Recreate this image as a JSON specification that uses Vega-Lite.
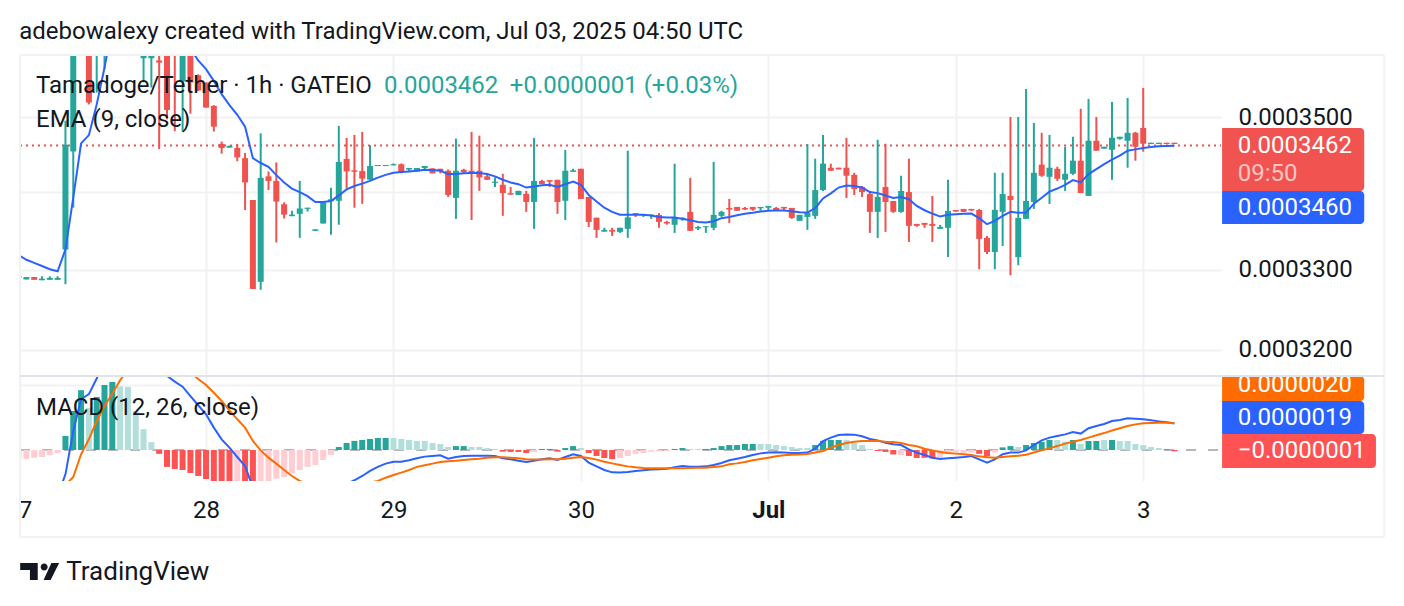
{
  "$schema": "https://vega.github.io/schema/vega-lite/v6.json",
  "description": "Tamadoge/Tether 1h candles with EMA 9 and MACD panes",
  "background": "#ffffff",
  "padding": {"left": 18, "top": 20, "right": 0, "bottom": 0},
  "title": {
    "text": "adebowalexy created with TradingView.com, Jul 03, 2025 04:50 UTC",
    "anchor": "start",
    "font": "Roboto",
    "fontSize": 24,
    "fontWeight": "normal",
    "color": "#131722",
    "offset": 10,
    "dx": 1
  },
  "config": {
    "view": {"stroke": null},
    "font": "Roboto",
    "axis": {"domain": false, "ticks": false, "gridColor": "#f2f2f2", "gridWidth": 2, "labelFont": "Roboto", "labelFontSize": 24, "labelColor": "#131722"}
  },
  "spacing": 0,
  "bounds": "flush",
  "datasets": {
    "bars": [
      {"hour":-24,"open":3290,"high":3292,"low":3290,"close":3292,"ema":3319,"hist":-6,"histState":"ease"},
      {"hour":-23,"open":3288,"high":3291,"low":3288,"close":3291,"ema":3313,"hist":-6.9,"histState":"ease"},
      {"hour":-22,"open":3291,"high":3291,"low":3287.5,"close":3287.5,"ema":3309,"hist":-6,"histState":"ease"},
      {"hour":-21,"open":3287,"high":3292,"low":3287,"close":3289,"ema":3305,"hist":-5.4,"histState":"ease"},
      {"hour":-20,"open":3287.5,"high":3292,"low":3287.5,"close":3290,"ema":3301,"hist":-4,"histState":"ease"},
      {"hour":-19,"open":3287.5,"high":3292,"low":3287.5,"close":3290,"ema":3298.3,"macd":-35,"signal":-40,"hist":-2.3,"histState":"ease"},
      {"hour":-18,"open":3326,"high":3495,"low":3282,"close":3463,"ema":3326.3,"macd":-18.7,"signal":-27,"hist":10.8,"histState":"grow"},
      {"hour":-17,"open":3454,"high":3680,"low":3380,"close":3640,"ema":3393,"macd":14.6,"signal":-20.8,"hist":30,"histState":"grow"},
      {"hour":-16,"ema":3464.6,"macd":39,"signal":-3.3,"hist":46,"histState":"grow"},
      {"hour":-15,"open":3640,"high":3660,"low":3517,"close":3519.5,"ema":3475.7,"macd":43,"signal":8.2,"hist":32.5,"histState":"fade"},
      {"hour":-14,"open":3600,"high":3660,"low":3533,"close":3640,"ema":3517,"macd":55,"signal":22.3,"hist":40.8,"histState":"grow"},
      {"hour":-13,"open":3610,"high":3660,"low":3565,"close":3650,"ema":3567,"macd":70,"signal":33.8,"hist":50,"histState":"grow"},
      {"hour":-12,"ema":3625,"signal":43.3,"hist":52.3,"histState":"grow"},
      {"hour":-11,"ema":3660,"signal":53.6,"hist":49,"histState":"fade"},
      {"hour":-10,"signal":62,"hist":48.5,"histState":"fade"},
      {"hour":-9,"ema":3700,"macd":85,"hist":30,"histState":"fade"},
      {"hour":-8,"open":3580,"high":3650,"low":3547,"close":3640,"hist":16,"histState":"fade"},
      {"hour":-7,"open":3580,"high":3640,"low":3540,"close":3620,"ema":3705,"hist":6,"histState":"fade"},
      {"hour":-6,"open":3577,"high":3600,"low":3457,"close":3574,"macd":65,"signal":72,"hist":-3,"histState":"fall"},
      {"hour":-5,"open":3600,"high":3620,"low":3497,"close":3509.5,"ema":3680,"macd":57,"hist":-13,"histState":"fall"},
      {"hour":-4,"open":3600,"high":3610,"low":3481,"close":3590,"macd":52.6,"hist":-14.6,"histState":"fall"},
      {"hour":-3,"open":3548,"high":3630,"low":3480.5,"close":3620,"ema":3625,"macd":48.7,"signal":63,"hist":-15.4,"histState":"fall"},
      {"hour":-2,"open":3620,"high":3630,"low":3504.5,"close":3546.7,"ema":3593,"macd":41.5,"signal":59.5,"hist":-17.7,"histState":"fall"},
      {"hour":-1,"open":3556.6,"high":3558,"low":3535,"close":3536,"ema":3577,"macd":34.4,"signal":54.6,"hist":-20,"histState":"fall"},
      {"hour":0,"open":3546.7,"high":3546.7,"low":3512.7,"close":3512.7,"ema":3565,"macd":27.4,"signal":50,"hist":-22.3,"histState":"fall"},
      {"hour":1,"open":3515,"high":3516,"low":3480.5,"close":3487,"ema":3549,"macd":17.2,"signal":44,"hist":-25,"histState":"fall"},
      {"hour":2,"open":3464,"high":3467,"low":3451,"close":3458.5,"ema":3531,"macd":8.2,"signal":37.7,"hist":-27,"histState":"fall"},
      {"hour":3,"open":3459,"high":3461.5,"low":3459,"close":3461.5,"ema":3516,"macd":1.8,"signal":30.5,"hist":-28,"histState":"fall"},
      {"hour":4,"open":3458.5,"high":3464,"low":3441,"close":3446,"ema":3503,"macd":-5.4,"signal":23.6,"hist":-27,"histState":"ease"},
      {"hour":5,"open":3445,"high":3452,"low":3377,"close":3413,"ema":3487,"macd":-12.3,"signal":17.2,"hist":-29,"histState":"fall"},
      {"hour":6,"open":3390,"high":3390,"low":3276,"close":3276,"ema":3445,"macd":-29,"signal":7,"hist":-31,"histState":"fall"},
      {"hour":7,"open":3285,"high":3478,"low":3275,"close":3419,"ema":3438.6,"macd":-35,"signal":-0.3,"hist":-29,"histState":"ease"},
      {"hour":8,"open":3421,"high":3427.5,"low":3403,"close":3415,"ema":3433.7,"signal":-5.9,"hist":-26,"histState":"ease"},
      {"hour":9,"open":3415,"high":3439.5,"low":3335,"close":3388,"ema":3422.6,"signal":-10.5,"hist":-22,"histState":"ease"},
      {"hour":10,"open":3384.5,"high":3387,"low":3366,"close":3371,"ema":3412.8,"macd":-38,"signal":-15.4,"hist":-20.8,"histState":"ease"},
      {"hour":11,"open":3369,"high":3376,"low":3369,"close":3371,"ema":3404.9,"signal":-20,"hist":-18,"histState":"ease"},
      {"hour":12,"open":3372,"high":3415,"low":3341,"close":3379,"ema":3400.4,"signal":-23.8,"hist":-15.4,"histState":"ease"},
      {"hour":13,"open":3378.5,"high":3380,"low":3375,"close":3380,"ema":3395,"signal":-26,"hist":-13,"histState":"ease"},
      {"hour":14,"open":3350,"high":3352,"low":3350,"close":3352,"ema":3387.5,"macd":-34,"hist":-11.5,"histState":"ease"},
      {"hour":15,"open":3359.5,"high":3387,"low":3359.5,"close":3387,"ema":3387.5,"hist":-7.7,"histState":"ease"},
      {"hour":16,"open":3388.5,"high":3406,"low":3345,"close":3391,"ema":3388.8,"hist":-3.8,"histState":"ease"},
      {"hour":17,"open":3389,"high":3488,"low":3358,"close":3440,"ema":3396,"signal":-30,"hist":2.3,"histState":"grow"},
      {"hour":18,"open":3444,"high":3472,"low":3405,"close":3427.5,"ema":3403.9,"macd":-26,"hist":5.4,"histState":"grow"},
      {"hour":19,"open":3429,"high":3476,"low":3380,"close":3427,"ema":3408.3,"macd":-23.3,"hist":7,"histState":"grow"},
      {"hour":20,"open":3428,"high":3480,"low":3385,"close":3418,"ema":3411.5,"macd":-20,"hist":7.7,"histState":"grow"},
      {"hour":21,"open":3416.6,"high":3462.4,"low":3416.6,"close":3434.6,"ema":3415,"macd":-16,"signal":-25,"hist":8.5,"histState":"grow"},
      {"hour":22,"open":3436,"high":3436,"low":3434.6,"close":3434.6,"ema":3419.4,"macd":-13,"signal":-23.8,"hist":9.2,"histState":"grow"},
      {"hour":23,"open":3434.6,"high":3436,"low":3434.6,"close":3436,"ema":3423,"macd":-10.5,"signal":-21.3,"hist":9.2,"histState":"grow"},
      {"hour":24,"open":3435.5,"high":3438,"low":3435.5,"close":3437,"ema":3425.7,"macd":-9,"signal":-19.2,"hist":9.2,"histState":"fade"},
      {"hour":25,"open":3437,"high":3438,"low":3425,"close":3426,"ema":3426.6,"macd":-9,"signal":-17.4,"hist":8.5,"histState":"fade"},
      {"hour":26,"open":3430,"high":3432,"low":3427.5,"close":3432,"ema":3427.5,"macd":-7.9,"signal":-15.4,"hist":7.7,"histState":"fade"},
      {"hour":27,"open":3427.5,"high":3432,"low":3427.5,"close":3432,"ema":3428.4,"macd":-6.4,"signal":-13,"hist":7,"histState":"fade"},
      {"hour":28,"open":3432,"high":3434.6,"low":3429,"close":3434.6,"ema":3429.7,"macd":-5.1,"signal":-11.8,"hist":7,"histState":"fade"},
      {"hour":29,"open":3431.5,"high":3431.5,"low":3425,"close":3425,"ema":3429.3,"macd":-4.6,"signal":-10.5,"hist":5.4,"histState":"fade"},
      {"hour":30,"open":3431,"high":3431,"low":3425,"close":3428,"ema":3428.4,"macd":-4.1,"signal":-9.2,"hist":4.6,"histState":"fade"},
      {"hour":31,"open":3428.4,"high":3430,"low":3394,"close":3396.6,"ema":3424,"macd":-6.7,"signal":-8.7,"hist":2.3,"histState":"fade"},
      {"hour":32,"open":3392.7,"high":3471,"low":3365.5,"close":3428.4,"ema":3424,"macd":-5.4,"signal":-8.2,"hist":3,"histState":"grow"},
      {"hour":33,"open":3429.7,"high":3431,"low":3425,"close":3426.6,"ema":3425,"macd":-4.6,"signal":-7.7,"hist":3,"histState":"grow"},
      {"hour":34,"open":3428.4,"high":3480,"low":3364,"close":3425,"ema":3425.3,"macd":-4.4,"signal":-7.2,"hist":2.3,"histState":"fade"},
      {"hour":35,"open":3428.4,"high":3475,"low":3402,"close":3419.6,"ema":3425.3,"macd":-4.4,"signal":-6.7,"hist":2.3,"histState":"fade"},
      {"hour":36,"open":3421,"high":3424,"low":3416.5,"close":3416.5,"ema":3424,"macd":-4.4,"signal":-5.9,"hist":1.5,"histState":"fade"},
      {"hour":37,"open":3412.5,"high":3419.6,"low":3407,"close":3414,"ema":3421,"macd":-4.6,"signal":-5.6,"hist":0.8,"histState":"fade"},
      {"hour":38,"open":3410,"high":3424.4,"low":3369.4,"close":3399,"ema":3416.5,"macd":-6.4,"signal":-5.6,"hist":-1.3,"histState":"fall"},
      {"hour":39,"open":3399,"high":3407,"low":3397,"close":3397,"ema":3413,"macd":-7.2,"signal":-5.9,"hist":-1.5,"histState":"fall"},
      {"hour":40,"open":3396.5,"high":3402,"low":3396.5,"close":3402,"ema":3410.7,"macd":-8.2,"signal":-6.4,"hist":-1.5,"histState":"fall"},
      {"hour":41,"open":3398,"high":3402,"low":3374.6,"close":3387.5,"ema":3406.3,"macd":-9.2,"signal":-7.2,"hist":-2.3,"histState":"fall"},
      {"hour":42,"open":3387.5,"high":3472,"low":3352.6,"close":3415,"ema":3407.6,"macd":-8.2,"signal":-7.4,"hist":-1.5,"histState":"ease"},
      {"hour":43,"open":3415,"high":3416.5,"low":3411,"close":3411,"ema":3409.4,"macd":-7.2,"signal":-7.4,"hist":0.8,"histState":"grow"},
      {"hour":44,"open":3416,"high":3416,"low":3407,"close":3414,"ema":3410,"macd":-6.4,"signal":-7.2,"hist":0.8,"histState":"grow"},
      {"hour":45,"open":3416.5,"high":3416.5,"low":3372,"close":3387.5,"ema":3407,"macd":-7.7,"signal":-7.2,"hist":-1.3,"histState":"fall"},
      {"hour":46,"open":3389,"high":3456,"low":3364,"close":3428.4,"ema":3410.7,"macd":-5.4,"signal":-6.7,"hist":1.5,"histState":"grow"},
      {"hour":47,"open":3427,"high":3431,"low":3427,"close":3429,"ema":3414.3,"macd":-3.3,"signal":-5.9,"hist":3,"histState":"grow"},
      {"hour":48,"open":3431,"high":3431,"low":3391.4,"close":3391.4,"ema":3410,"macd":-4.6,"signal":-5.4,"hist":1.5,"histState":"fade"},
      {"hour":49,"open":3394,"high":3394,"low":3355,"close":3361.6,"ema":3396.6,"macd":-9.7,"signal":-6.2,"hist":-2.3,"histState":"fall"},
      {"hour":50,"open":3367,"high":3367,"low":3341,"close":3351.3,"ema":3388,"macd":-12.6,"signal":-7.4,"hist":-4.6,"histState":"fall"},
      {"hour":51,"open":3349,"high":3354,"low":3349,"close":3351.3,"ema":3380,"macd":-15.4,"signal":-9,"hist":-6.2,"histState":"fall"},
      {"hour":52,"open":3351.3,"high":3354,"low":3343.5,"close":3349,"ema":3374.6,"macd":-17.2,"signal":-10.3,"hist":-7,"histState":"fall"},
      {"hour":53,"open":3348.7,"high":3354,"low":3347.4,"close":3354,"ema":3371,"macd":-17.4,"signal":-11.5,"hist":-6.2,"histState":"ease"},
      {"hour":54,"open":3352.6,"high":3455,"low":3341,"close":3367.5,"ema":3370.7,"macd":-16.9,"signal":-12.6,"hist":-4.6,"histState":"ease"},
      {"hour":55,"open":3373,"high":3373,"low":3368,"close":3370.7,"ema":3370.7,"macd":-16.2,"signal":-13.3,"hist":-3,"histState":"ease"},
      {"hour":56,"open":3370,"high":3371.6,"low":3368,"close":3371.6,"ema":3370.7,"macd":-15.6,"signal":-13.8,"hist":-2.3,"histState":"ease"},
      {"hour":57,"open":3369.4,"high":3371,"low":3365.5,"close":3371,"ema":3369.8,"macd":-15.1,"signal":-14.1,"hist":-1.3,"histState":"ease"},
      {"hour":58,"open":3370.7,"high":3373,"low":3354,"close":3361.6,"ema":3368,"macd":-14.9,"signal":-14.1,"hist":-1,"histState":"ease"},
      {"hour":59,"open":3361.6,"high":3363,"low":3358,"close":3359.5,"ema":3367.2,"macd":-14.4,"signal":-14.1,"hist":-0.8,"histState":"ease"},
      {"hour":60,"open":3357.8,"high":3437.7,"low":3347.4,"close":3367.5,"ema":3367.2,"macd":-13.3,"signal":-14.1,"hist":0.8,"histState":"grow"},
      {"hour":61,"open":3365,"high":3367.5,"low":3363,"close":3367,"ema":3365.5,"macd":-12.3,"signal":-14.1,"hist":1.5,"histState":"grow"},
      {"hour":62,"open":3374.6,"high":3419,"low":3350,"close":3350,"ema":3363.8,"macd":-12.8,"signal":-13.8,"hist":0.8,"histState":"fade"},
      {"hour":63,"open":3353,"high":3356.5,"low":3351,"close":3355,"ema":3361.6,"macd":-12.8,"signal":-13.6,"hist":0.8,"histState":"fade"},
      {"hour":64,"open":3354.7,"high":3356,"low":3347.4,"close":3356,"ema":3360.7,"macd":-12.6,"signal":-13.6,"hist":0.8,"histState":"grow"},
      {"hour":65,"open":3354,"high":3440,"low":3351,"close":3370.7,"ema":3362.4,"macd":-11.5,"signal":-13,"hist":1.5,"histState":"grow"},
      {"hour":66,"open":3369.4,"high":3376,"low":3368,"close":3374.6,"ema":3366.4,"macd":-10,"signal":-12.6,"hist":3,"histState":"grow"},
      {"hour":67,"open":3379.7,"high":3391.4,"low":3360,"close":3377.6,"ema":3368,"macd":-7.9,"signal":-11,"hist":3.8,"histState":"grow"},
      {"hour":68,"open":3381,"high":3381,"low":3376,"close":3376,"ema":3370.3,"macd":-6.7,"signal":-10.3,"hist":3.8,"histState":"grow"},
      {"hour":69,"open":3379.7,"high":3381,"low":3377,"close":3377.6,"ema":3372,"macd":-5.4,"signal":-9.2,"hist":4.6,"histState":"grow"},
      {"hour":70,"open":3381,"high":3381,"low":3376,"close":3377.6,"ema":3373.3,"macd":-3.8,"signal":-7.9,"hist":4.6,"histState":"grow"},
      {"hour":71,"open":3379.3,"high":3381,"low":3376,"close":3381,"ema":3375,"macd":-2.6,"signal":-6.9,"hist":4.6,"histState":"fade"},
      {"hour":72,"open":3380,"high":3382.3,"low":3376,"close":3382.3,"ema":3376,"macd":-2,"signal":-5.9,"hist":4.6,"histState":"fade"},
      {"hour":73,"open":3379.7,"high":3381,"low":3377,"close":3377,"ema":3376.4,"macd":-1.8,"signal":-4.9,"hist":3.8,"histState":"fade"},
      {"hour":74,"open":3381,"high":3381,"low":3376,"close":3379,"ema":3376.4,"macd":-2,"signal":-4.1,"hist":3,"histState":"fade"},
      {"hour":75,"open":3379.7,"high":3379.7,"low":3365.5,"close":3366.8,"ema":3375.4,"macd":-2.3,"signal":-3.6,"hist":2.3,"histState":"fade"},
      {"hour":76,"open":3363,"high":3370.7,"low":3363,"close":3370.7,"ema":3374,"macd":-2.4,"signal":-3.5,"hist":1.5,"histState":"fade"},
      {"hour":77,"open":3368,"high":3463.8,"low":3351.3,"close":3373.5,"ema":3373.7,"macd":-2,"signal":-3,"hist":1.5,"histState":"fade"},
      {"hour":78,"open":3369.4,"high":3444.3,"low":3365.5,"close":3403,"ema":3379.3,"macd":1,"signal":-2,"hist":3.8,"histState":"grow"},
      {"hour":79,"open":3403,"high":3476,"low":3401.8,"close":3437.8,"ema":3392,"macd":6.9,"signal":-0.8,"hist":7,"histState":"grow"},
      {"hour":80,"open":3432.4,"high":3437.7,"low":3428.4,"close":3428.4,"ema":3398.7,"macd":9.5,"signal":1.8,"hist":7.7,"histState":"grow"},
      {"hour":81,"open":3432.4,"high":3432.4,"low":3430.2,"close":3430.2,"ema":3406.3,"macd":11.5,"signal":3.8,"hist":7.7,"histState":"grow"},
      {"hour":82,"open":3432.4,"high":3472,"low":3392.7,"close":3421.8,"ema":3409,"macd":12,"signal":5.4,"hist":7.7,"histState":"fade"},
      {"hour":83,"open":3423,"high":3425.7,"low":3396.6,"close":3404.4,"ema":3408.4,"macd":11.8,"signal":6.4,"hist":5.4,"histState":"fade"},
      {"hour":84,"open":3407,"high":3408.4,"low":3394,"close":3400.4,"ema":3406.3,"macd":10.5,"signal":6.9,"hist":3.8,"histState":"fade"},
      {"hour":85,"open":3397.8,"high":3401.8,"low":3347.4,"close":3374.6,"ema":3400.4,"macd":8.5,"signal":6.9,"hist":0.8,"histState":"fade"},
      {"hour":86,"open":3374.6,"high":3469.5,"low":3341,"close":3394,"ema":3399,"macd":7.4,"signal":6.9,"hist":-0.8,"histState":"fall"},
      {"hour":87,"open":3407,"high":3464.2,"low":3348.7,"close":3387.5,"ema":3396,"macd":5.6,"signal":6.4,"hist":-1.5,"histState":"fall"},
      {"hour":88,"open":3388.8,"high":3388.8,"low":3373.3,"close":3374.6,"ema":3392.7,"macd":4.4,"signal":6.2,"hist":-3.5,"histState":"fall"},
      {"hour":89,"open":3374.6,"high":3421.8,"low":3373.3,"close":3401.8,"ema":3394,"macd":3.8,"signal":5.4,"hist":-4,"histState":"ease"},
      {"hour":90,"open":3400.4,"high":3444.3,"low":3335.8,"close":3356.5,"ema":3391,"macd":0.5,"signal":3.8,"hist":-4.6,"histState":"fall"},
      {"hour":91,"open":3359,"high":3359,"low":3355.2,"close":3356.5,"ema":3382.3,"macd":-2,"signal":2.8,"hist":-6.2,"histState":"fall"},
      {"hour":92,"open":3360.3,"high":3360.3,"low":3354,"close":3357.8,"ema":3376.7,"macd":-3.8,"signal":1,"hist":-6,"histState":"fall"},
      {"hour":93,"open":3359,"high":3395.3,"low":3335.8,"close":3356.5,"ema":3372.4,"macd":-5.9,"signal":-0.3,"hist":-6.5,"histState":"fall"},
      {"hour":94,"open":3352.6,"high":3357.8,"low":3352.6,"close":3355.2,"ema":3368.5,"macd":-6.9,"signal":-1.5,"hist":-6,"histState":"ease"},
      {"hour":95,"open":3353.9,"high":3416.5,"low":3316.4,"close":3375.9,"ema":3370.7,"macd":-6.4,"signal":-2.3,"hist":-3,"histState":"ease"},
      {"hour":96,"open":3377,"high":3377,"low":3375,"close":3375,"ema":3371.6,"macd":-5.9,"signal":-2.8,"hist":-2,"histState":"ease"},
      {"hour":97,"open":3378.4,"high":3378.4,"low":3374.6,"close":3374.6,"ema":3372,"macd":-5.4,"signal":-3.3,"hist":-2.5,"histState":"ease"},
      {"hour":98,"open":3378.4,"high":3378.4,"low":3376.3,"close":3376.3,"ema":3372.4,"macd":-4.6,"signal":-3.8,"hist":-2,"histState":"ease"},
      {"hour":99,"open":3377,"high":3378.4,"low":3300.9,"close":3339.7,"ema":3366.4,"macd":-7.2,"signal":-4.9,"hist":-3,"histState":"fall"},
      {"hour":100,"open":3341,"high":3343.5,"low":3320.3,"close":3322.9,"ema":3358.6,"macd":-9.7,"signal":-5.6,"hist":-5,"histState":"fall"},
      {"hour":101,"open":3322.9,"high":3425.7,"low":3300.9,"close":3377.2,"ema":3362.9,"macd":-7.2,"signal":-5.9,"hist":-2,"histState":"ease"},
      {"hour":102,"open":3374.6,"high":3425.7,"low":3330.6,"close":3397.8,"ema":3369.4,"macd":-3.3,"signal":-5.4,"hist":2,"histState":"grow"},
      {"hour":103,"open":3395.3,"high":3500,"low":3293.3,"close":3390,"ema":3374.6,"macd":-2,"signal":-4.9,"hist":3,"histState":"grow"},
      {"hour":104,"open":3316.4,"high":3500,"low":3306,"close":3366.8,"ema":3373.3,"macd":-2,"signal":-4.4,"hist":2.3,"histState":"fade"},
      {"hour":105,"open":3365.5,"high":3538,"low":3365.5,"close":3388.8,"ema":3373.7,"macd":-0.3,"signal":-3.6,"hist":3.8,"histState":"grow"},
      {"hour":106,"open":3387.5,"high":3492,"low":3378.4,"close":3425.7,"ema":3385.3,"macd":3.8,"signal":-2,"hist":5.4,"histState":"grow"},
      {"hour":107,"open":3436.4,"high":3478.8,"low":3420.4,"close":3421.8,"ema":3393,"macd":7.4,"signal":-0.3,"hist":6.2,"histState":"grow"},
      {"hour":108,"open":3420.4,"high":3476,"low":3384.9,"close":3432.4,"ema":3401,"macd":9.5,"signal":1.3,"hist":7.7,"histState":"grow"},
      {"hour":109,"open":3431,"high":3433.7,"low":3415,"close":3417.8,"ema":3405,"macd":10.8,"signal":3,"hist":7.7,"histState":"fade"},
      {"hour":110,"open":3416.5,"high":3460.2,"low":3401.9,"close":3424.4,"ema":3409.8,"macd":12,"signal":4.9,"hist":6.5,"histState":"fade"},
      {"hour":111,"open":3424.4,"high":3473.5,"low":3423,"close":3441.7,"ema":3416,"macd":13.8,"signal":6.4,"hist":7.7,"histState":"grow"},
      {"hour":112,"open":3441.7,"high":3511,"low":3399.1,"close":3399.1,"ema":3413,"macd":12.6,"signal":7.7,"hist":4.6,"histState":"fade"},
      {"hour":113,"open":3395.3,"high":3524.5,"low":3395.3,"close":3468.2,"ema":3424,"macd":16.7,"signal":9.5,"hist":6.9,"histState":"grow"},
      {"hour":114,"open":3468.2,"high":3500,"low":3454.9,"close":3454.9,"ema":3430.6,"macd":18.5,"signal":11.3,"hist":6.9,"histState":"grow"},
      {"hour":115,"open":3457.6,"high":3460.2,"low":3457.6,"close":3460.2,"ema":3437.2,"macd":20,"signal":13,"hist":7.7,"histState":"fade"},
      {"hour":116,"open":3456.2,"high":3520.4,"low":3416.5,"close":3472.2,"ema":3443,"macd":22.3,"signal":15,"hist":7.7,"histState":"grow"},
      {"hour":117,"open":3470.8,"high":3473.5,"low":3469.5,"close":3473.5,"ema":3448.3,"macd":23,"signal":16.7,"hist":6.9,"histState":"fade"},
      {"hour":118,"open":3468.2,"high":3525.8,"low":3432.4,"close":3478.8,"ema":3455,"macd":24.4,"signal":18.5,"hist":6.9,"histState":"fade"},
      {"hour":119,"open":3478.8,"high":3480.1,"low":3441.7,"close":3460.2,"ema":3456.7,"macd":24,"signal":19.7,"hist":4.6,"histState":"fade"},
      {"hour":120,"open":3485.4,"high":3539.4,"low":3453.6,"close":3464.2,"ema":3458.5,"macd":23.6,"signal":20.5,"hist":3.8,"histState":"fade"},
      {"hour":121,"open":3463.8,"high":3465.5,"low":3463.8,"close":3465.5,"ema":3459.8,"macd":22.8,"signal":20.8,"hist":2.3,"histState":"fade"},
      {"hour":122,"open":3463.8,"high":3465.5,"low":3463.8,"close":3465.5,"ema":3460.7,"macd":22,"signal":21,"hist":1.5,"histState":"fade"},
      {"hour":123,"open":3465.5,"high":3465.5,"low":3463.8,"close":3463.8,"ema":3461.1,"macd":21.3,"signal":21,"hist":0.5,"histState":"grow"},
      {"hour":124,"open":3465.5,"high":3465.5,"low":3463.8,"close":3463.8,"ema":3461.5,"macd":20.3,"signal":20.8,"hist":-1,"histState":"fall"}
    ]
  },
  "vconcat": [
    {
      "width": 1201,
      "height": 321,
      "encoding": {
        "x": {
          "field": "hour",
          "type": "quantitative",
          "title": null,
          "scale": {"domain": [-23.82, 129.96], "nice": false, "zero": false, "padding": 0},
          "axis": {"values": [0, 24, 48, 72, 96, 120], "labels": false, "grid": true}
        }
      },
      "layer": [
        {
          "data": {"values": [{"hour": -23.82, "hourEnd": 129.96, "price": 3462}]},
          "mark": {"type": "rule", "color": "#ef5350", "strokeWidth": 2, "strokeDash": [2, 4]},
          "encoding": {
            "x2": {"field": "hourEnd"},
            "y": {
              "field": "price",
              "type": "quantitative",
              "title": null,
              "scale": {"type": "log", "domain": [3168.1, 3584.5], "nice": false},
              "axis": {
                "orient": "right",
                "values": [3200, 3300, 3400, 3500],
                "labelPadding": 17,
                "labelExpr": "datum.value == 3400 ? '' : format(datum.value / 10000000, '.7f')"
              }
            }
          }
        },
        {
          "data": {"name": "bars"},
          "mark": {"type": "rule", "strokeWidth": 2, "clip": true},
          "encoding": {
            "y": {"field": "high", "type": "quantitative", "title": null},
            "y2": {"field": "low"},
            "color": {"condition": {"test": "datum.close >= datum.open", "value": "#26a69a"}, "value": "#ef5350"}
          }
        },
        {
          "data": {"name": "bars"},
          "mark": {"type": "bar", "orient": "vertical", "width": 6, "clip": true},
          "encoding": {
            "y": {"field": "open", "type": "quantitative", "title": null},
            "y2": {"field": "close"},
            "color": {"condition": {"test": "datum.close >= datum.open", "value": "#26a69a"}, "value": "#ef5350"}
          }
        },
        {
          "data": {"name": "bars"},
          "mark": {"type": "line", "color": "#2962ff", "strokeWidth": 2, "clip": true},
          "encoding": {"y": {"field": "ema", "type": "quantitative", "title": null}}
        },
        {
          "data": {"values": [
            {"hour": 130.1, "hourEnd": 148.3, "top": 3485.4, "bottom": 3401.9, "series": "price"},
            {"hour": 130.1, "hourEnd": 148.3, "top": 3401.9, "bottom": 3359, "series": "ema"}
          ]},
          "mark": {"type": "rect", "cornerRadiusTopRight": 4, "cornerRadiusBottomRight": 4},
          "encoding": {
            "x2": {"field": "hourEnd"},
            "y": {"field": "top", "type": "quantitative", "title": null},
            "y2": {"field": "bottom"},
            "color": {
              "field": "series",
              "type": "nominal",
              "legend": null,
              "scale": {"domain": ["price", "ema"], "range": ["#f05350", "#2962ff"]}
            }
          }
        },
        {
          "data": {"values": [
            {"hour": -21.77, "level": 3542, "label": "Tamadoge/Tether · 1h · GATEIO", "kind": "ink"},
            {"hour": 22.8, "level": 3542, "label": "0.0003462", "kind": "teal"},
            {"hour": 38.9, "level": 3542, "label": "+0.0000001 (+0.03%)", "kind": "teal"},
            {"hour": -21.77, "level": 3496, "label": "EMA (9, close)", "kind": "ink"},
            {"hour": 132.1, "level": 3461.5, "label": "0.0003462", "kind": "white"},
            {"hour": 132.1, "level": 3424, "label": "09:50", "kind": "faded"},
            {"hour": 132.1, "level": 3380, "label": "0.0003460", "kind": "white"}
          ]},
          "mark": {"type": "text", "align": "left", "baseline": "middle", "font": "Roboto", "fontSize": 24},
          "encoding": {
            "y": {"field": "level", "type": "quantitative", "title": null},
            "text": {"field": "label"},
            "color": {
              "field": "kind",
              "type": "nominal",
              "legend": null,
              "scale": {"domain": ["ink", "teal", "white", "faded"], "range": ["#131722", "#26a69a", "#ffffff", "#fbc5c3"]}
            }
          }
        },
        {
          "data": {"values": [{"hour": -23.82}, {"hour": 150.85}]},
          "mark": {"type": "rule", "color": "#f2f2f2", "strokeWidth": 2}
        },
        {
          "data": {"values": [{"hour": -23.82, "hourEnd": 150.85, "price": 3584.5}]},
          "mark": {"type": "rule", "color": "#f2f2f2", "strokeWidth": 2},
          "encoding": {
            "x2": {"field": "hourEnd"},
            "y": {"field": "price", "type": "quantitative", "title": null}
          }
        }
      ],
      "resolve": {"scale": {"color": "independent"}}
    },
    {
      "width": 1201,
      "height": 105,
      "encoding": {
        "x": {
          "field": "hour",
          "type": "quantitative",
          "title": null,
          "scale": {"domain": [-23.82, 129.96], "nice": false, "zero": false, "padding": 0},
          "axis": {
            "values": [-23.82, 0, 24, 48, 72, 96, 120],
            "grid": true,
            "labelPadding": 17,
            "labelBound": false,
            "labelFlush": false,
            "labelOverlap": false,
            "labelExpr": "datum.value < 0 ? '7' : {'0':'28','24':'29','48':'30','72':'Jul','96':'2','120':'3'}[datum.value]",
            "labelOffset": {"condition": {"test": "datum.value < 0", "value": 5}, "value": 0},
            "labelFontWeight": {"condition": {"test": "datum.value == 72", "value": "bold"}, "value": "normal"}
          }
        }
      },
      "layer": [
        {
          "data": {"values": [{"hour": -23.82, "hourEnd": 129.96, "zero": 0}]},
          "mark": {"type": "rule", "color": "#787b86", "opacity": 0.55, "strokeWidth": 2, "strokeDash": [10, 12]},
          "encoding": {
            "x2": {"field": "hourEnd"},
            "y": {
              "field": "zero",
              "type": "quantitative",
              "title": null,
              "scale": {"domain": [-23.85, 56.9], "nice": false, "zero": false},
              "axis": {"orient": "right", "values": [50], "labels": false, "grid": true}
            }
          }
        },
        {
          "data": {"name": "bars"},
          "mark": {"type": "bar", "orient": "vertical", "width": 6, "clip": true},
          "encoding": {
            "y": {"field": "hist", "type": "quantitative", "title": null},
            "y2": {"datum": 0},
            "color": {
              "field": "histState",
              "type": "nominal",
              "legend": null,
              "scale": {"domain": ["grow", "fade", "fall", "ease"], "range": ["#26a69a", "#b2dfdb", "#ff5252", "#ffcdd2"]}
            }
          }
        },
        {
          "data": {"name": "bars"},
          "mark": {"type": "line", "color": "#2962ff", "strokeWidth": 2, "clip": true},
          "encoding": {"y": {"field": "macd", "type": "quantitative", "title": null}}
        },
        {
          "data": {"name": "bars"},
          "mark": {"type": "line", "color": "#ff6d00", "strokeWidth": 2, "clip": true},
          "encoding": {"y": {"field": "signal", "type": "quantitative", "title": null}}
        },
        {
          "data": {"values": [
            {"hour": 130.1, "hourEnd": 148.3, "top": 56.9, "bottom": 37.7, "series": "signal"},
            {"hour": 130.1, "hourEnd": 148.3, "top": 37.7, "bottom": 12.3, "series": "macd"},
            {"hour": 130.1, "hourEnd": 149.8, "top": 12.3, "bottom": -13.8, "series": "histogram"}
          ]},
          "mark": {"type": "rect", "cornerRadiusTopRight": 4, "cornerRadiusBottomRight": 4},
          "encoding": {
            "x2": {"field": "hourEnd"},
            "y": {"field": "top", "type": "quantitative", "title": null},
            "y2": {"field": "bottom"},
            "fill": {
              "field": "series",
              "type": "nominal",
              "legend": null,
              "scale": {"domain": ["signal", "macd", "histogram"], "range": ["#ff6d00", "#2962ff", "#ff5252"]}
            }
          }
        },
        {
          "data": {"values": [
            {"hour": -21.77, "level": 32.3, "label": "MACD (12, 26, close)", "kind": "ink"},
            {"hour": 132.1, "level": 50, "label": "0.0000020", "kind": "white"},
            {"hour": 132.1, "level": 24.6, "label": "0.0000019", "kind": "white"},
            {"hour": 132.1, "level": -0.8, "label": "−0.0000001", "kind": "white"}
          ]},
          "mark": {"type": "text", "align": "left", "baseline": "middle", "font": "Roboto", "fontSize": 24},
          "encoding": {
            "y": {"field": "level", "type": "quantitative", "title": null},
            "text": {"field": "label"},
            "fill": {"condition": {"test": "datum.kind == 'ink'", "value": "#131722"}, "value": "#ffffff"}
          }
        },
        {
          "data": {"values": [{"hour": -23.82}, {"hour": 150.85}]},
          "mark": {"type": "rule", "color": "#f2f2f2", "strokeWidth": 2}
        },
        {
          "data": {"values": [{"hour": -23.82, "hourEnd": 150.85, "level": 56.9}]},
          "mark": {"type": "rule", "color": "#e0e3eb", "strokeWidth": 2},
          "encoding": {
            "x2": {"field": "hourEnd"},
            "y": {"field": "level", "type": "quantitative", "title": null}
          }
        }
      ],
      "resolve": {"scale": {"color": "independent", "fill": "independent"}}
    },
    {
      "width": 1201,
      "height": 56,
      "encoding": {
        "x": {
          "field": "hour",
          "type": "quantitative",
          "title": null,
          "scale": {"domain": [-23.82, 129.96], "nice": false, "zero": false, "padding": 0},
          "axis": null
        }
      },
      "layer": [
        {
          "data": {"values": [{"hour": -23.82}, {"hour": 150.85}]},
          "mark": {"type": "rule", "color": "#f2f2f2", "strokeWidth": 2}
        },
        {
          "data": {"values": [{"hour": -23.82, "hourEnd": 150.85, "level": 0}]},
          "mark": {"type": "rule", "color": "#f2f2f2", "strokeWidth": 2},
          "encoding": {
            "x2": {"field": "hourEnd"},
            "y": {"field": "level", "type": "quantitative", "title": null, "axis": null, "scale": {"domain": [0, 1]}}
          }
        }
      ]
    },
    {
      "width": 1201,
      "height": 70,
      "encoding": {
        "x": {
          "field": "hour",
          "type": "quantitative",
          "title": null,
          "scale": {"domain": [-23.82, 129.96], "nice": false, "zero": false, "padding": 0},
          "axis": null
        }
      },
      "layer": [
        {
          "data": {"values": [{"hour": -21.3}]},
          "mark": {
            "type": "point",
            "filled": true,
            "opacity": 1,
            "color": "#131722",
            "size": 1521,
            "shape": "M-1 -.46H-.1V.41H-.5V-.1H-1ZM.05 -.26a.18 .18 0 1 0 .36 0a.18 .18 0 1 0 -.36 0ZM.6 -.46H1L.56 .41H.2Z"
          }
        },
        {
          "data": {"values": [{"hour": -17.9, "label": "TradingView"}]},
          "mark": {"type": "text", "align": "left", "baseline": "middle", "font": "Roboto", "fontSize": 26, "color": "#131722"},
          "encoding": {"text": {"field": "label"}}
        }
      ]
    }
  ]
}
